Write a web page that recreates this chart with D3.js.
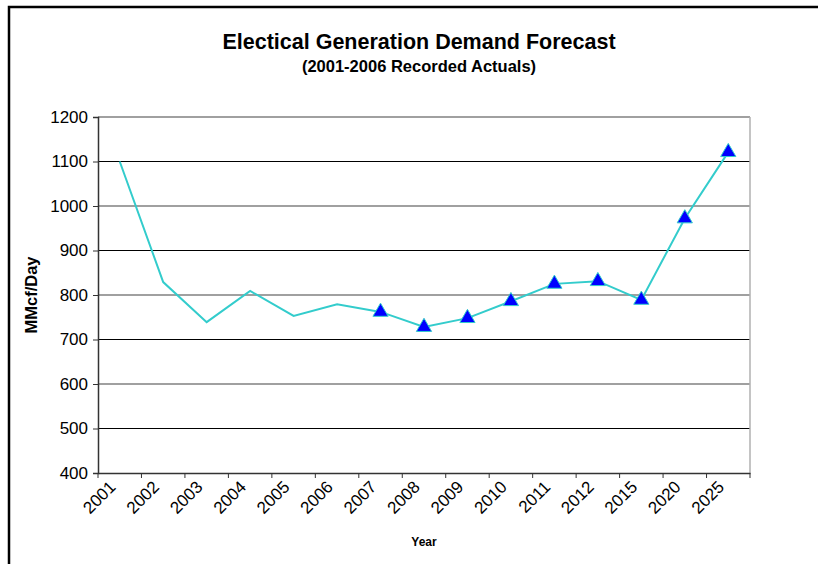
<!DOCTYPE html>
<html>
<head>
<meta charset="utf-8">
<script src="https://cdn.jsdelivr.net/npm/d3@7"></script>
<style>
body { margin: 0; background: #fff; }
svg { font-family: "Liberation Sans", Arial, sans-serif; }
</style>
</head>
<body>
<svg width="818" height="564"></svg>
<script>
var years = ['2001','2002','2003','2004','2005','2006','2007','2008','2009','2010','2011','2012','2015','2020','2025'];
var demand = [1100, 829, 739, 809, 753, 779, 762, 728, 748, 786, 825, 831, 789, 972, 1121];
var forecastFrom = '2007';
var yTicks = [400, 500, 600, 700, 800, 900, 1000, 1100, 1200];

var svg = d3.select('svg');
var plot = {left: 98, right: 750, top: 117, bottom: 473};
var font = '"Liberation Sans", Arial, sans-serif';

// outer frame
svg.append('path')
  .attr('d', 'M9,564V7H818')
  .attr('fill', 'none')
  .attr('stroke', '#000')
  .attr('stroke-width', 2.5);

var x = d3.scaleBand().domain(years).range([plot.left, plot.right]);
var y = d3.scaleLinear().domain([400, 1200]).range([plot.bottom, plot.top]);

// gridlines
svg.append('g').selectAll('line')
  .data(yTicks.slice(1))
  .enter().append('line')
  .attr('x1', plot.left).attr('x2', plot.right)
  .attr('y1', function(d) { return y(d); })
  .attr('y2', function(d) { return y(d); })
  .attr('stroke', function(d) { return d % 200 === 0 ? '#808080' : '#000'; })
  .attr('stroke-width', function(d) { return d % 200 === 0 ? 1.4 : 1; });

// right border of plot
svg.append('line')
  .attr('x1', plot.right).attr('x2', plot.right)
  .attr('y1', plot.top).attr('y2', plot.bottom)
  .attr('stroke', '#b0b0b0').attr('stroke-width', 1.5);

// y axis
var yAxis = svg.append('g')
  .attr('transform', 'translate(' + plot.left + ',0)')
  .call(d3.axisLeft(y).tickValues(yTicks).tickFormat(d3.format('d')).tickSize(5).tickPadding(5));
yAxis.select('.domain').attr('stroke', '#333').attr('stroke-width', 1.5);
yAxis.selectAll('.tick line').attr('stroke', '#333');
yAxis.selectAll('text').attr('font-size', 17).attr('fill', '#000')
  .attr('font-family', font);

// x axis, ticks at band boundaries
var xAxis = svg.append('g')
  .attr('transform', 'translate(0,' + plot.bottom + ')')
  .call(d3.axisBottom(x).tickSize(0).tickPadding(0));
xAxis.select('.domain').attr('stroke', '#333').attr('stroke-width', 1.5);
xAxis.selectAll('.tick text')
  .attr('font-size', 17).attr('fill', '#000')
  .attr('font-family', font)
  .attr('text-anchor', 'end')
  .attr('y', 0).attr('dy', 0)
  .attr('transform', 'translate(-3,15) rotate(-45)');
xAxis.append('g').selectAll('line')
  .data(years.concat(['end']))
  .enter().append('line')
  .attr('x1', function(d, i) { return plot.left + i * x.step(); })
  .attr('x2', function(d, i) { return plot.left + i * x.step(); })
  .attr('y1', 0).attr('y2', 5)
  .attr('stroke', '#333');

// line
var line = d3.line()
  .x(function(d, i) { return x(years[i]) + x.bandwidth() / 2; })
  .y(function(d) { return y(d); });
svg.append('path')
  .datum(demand)
  .attr('d', line)
  .attr('fill', 'none')
  .attr('stroke', '#33cccc')
  .attr('stroke-width', 2);

// triangle markers for forecast years
var startIdx = years.indexOf(forecastFrom);
var tri = d3.symbol().type(d3.symbolTriangle).size(100);
svg.append('g').selectAll('path')
  .data(demand.slice(startIdx))
  .enter().append('path')
  .attr('d', tri)
  .attr('transform', function(d, i) {
    return 'translate(' + (x(years[startIdx + i]) + x.bandwidth() / 2) + ',' + y(d) + ')';
  })
  .attr('fill', '#0000ff')
  .attr('stroke', '#33cccc')
  .attr('stroke-width', 1);

// titles
svg.append('text')
  .attr('x', 419).attr('y', 49)
  .attr('text-anchor', 'middle')
  .attr('font-size', 21.5).attr('font-weight', 'bold')
  .text('Electical Generation Demand Forecast');
svg.append('text')
  .attr('x', 419).attr('y', 72)
  .attr('text-anchor', 'middle')
  .attr('font-size', 16.5).attr('font-weight', 'bold')
  .text('(2001-2006 Recorded Actuals)');
svg.append('text')
  .attr('transform', 'translate(37,295) rotate(-90)')
  .attr('text-anchor', 'middle')
  .attr('font-size', 16.5).attr('font-weight', 'bold')
  .text('MMcf/Day');
svg.append('text')
  .attr('x', 424).attr('y', 546)
  .attr('text-anchor', 'middle')
  .attr('font-size', 12).attr('font-weight', 'bold')
  .text('Year');
</script>
</body>
</html>
